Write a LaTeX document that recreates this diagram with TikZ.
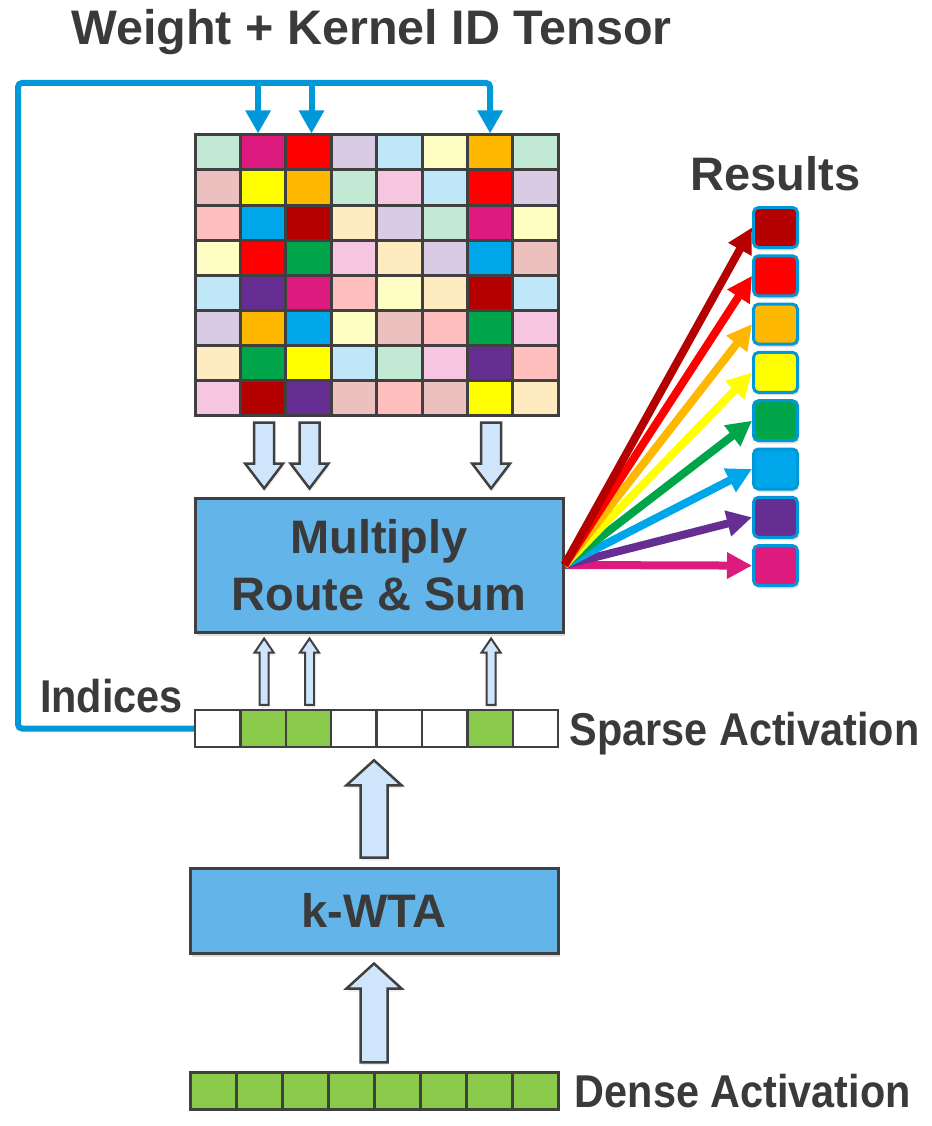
\documentclass[tikz,border=0pt]{standalone}
\usepackage{fontspec}
\setmainfont{Liberation Sans}
\usepackage{graphicx}
\usetikzlibrary{calc, positioning, shadows, arrows.meta}

\definecolor{txtgray}{HTML}{3A3A3A}
\definecolor{linegray}{HTML}{404040}
\definecolor{feedblue}{HTML}{0098D8}
\definecolor{boxblue}{HTML}{62B4E9}
\definecolor{arrowfill}{HTML}{CFE5FB}
\definecolor{actgreen}{HTML}{8BC94A}
% strong colours
\definecolor{cdred}{HTML}{B50000}
\definecolor{cred}{HTML}{FF0000}
\definecolor{corange}{HTML}{FFB800}
\definecolor{cyellow}{HTML}{FFFF00}
\definecolor{cgreen}{HTML}{00A54A}
\definecolor{cblue}{HTML}{00A6EA}
\definecolor{cpurple}{HTML}{662D92}
\definecolor{cmagenta}{HTML}{DD1A7E}
% pale colours
\definecolor{pgreen}{HTML}{C1E9D4}
\definecolor{plav}{HTML}{D9CBE4}
\definecolor{pblue}{HTML}{C0E7F8}
\definecolor{pyellow}{HTML}{FEFEC4}
\definecolor{prose}{HTML}{EBC0BF}
\definecolor{ppink}{HTML}{F6C5E0}
\definecolor{psalmon}{HTML}{FFBFBF}
\definecolor{ppeach}{HTML}{FEEBC0}

\newcommand{\narrowtxt}[1]{\scalebox{0.9}[1]{#1}}
% hollow block arrow: options, from, to, shaft half width, head half width, head length
\newcommand{\fatarrow}[6]{%
  \coordinate (fa-s) at (#2);
  \coordinate (fa-e) at (#3);
  \coordinate (fa-b) at ($(fa-e)!#6!(fa-s)$);
  \draw[hollow,#1] ($(fa-s)+(-#4,0)$) -- ($(fa-b)+(-#4,0)$) -- ($(fa-b)+(-#5,0)$) -- (fa-e)
    -- ($(fa-b)+(#5,0)$) -- ($(fa-b)+(#4,0)$) -- ($(fa-s)+(#4,0)$) -- cycle;}

\tikzset{
  lbl/.style={font=\fontsize{47}{57}\selectfont\bfseries, text=txtgray, inner sep=0pt},
  side/.style={lbl, font=\fontsize{46}{55}\selectfont\bfseries, text height=33pt, text depth=0pt},
  block/.style={rectangle, draw=linegray, line width=3pt, fill=boxblue, lbl, align=center,
    drop shadow={opacity=.25, shadow xshift=2pt, shadow yshift=-4pt}},
  cell/.style={rectangle, draw=linegray, line width=3pt, inner sep=0pt,
    minimum width=45.4pt, minimum height=35pt},
  act/.style={rectangle, draw=linegray, line width=2.5pt, inner sep=0pt,
    minimum width=45.4pt, minimum height=37pt},
  resbox/.style={rectangle, rounded corners=5pt, draw=feedblue, line width=3pt, inner sep=0pt,
    minimum width=44pt, minimum height=40pt,
    drop shadow={opacity=.25, shadow xshift=1.5pt, shadow yshift=-3pt}},
  hollow/.style={draw=linegray, line width=2.5pt, fill=arrowfill, line join=miter,
    drop shadow={opacity=.15, shadow xshift=1pt, shadow yshift=-3pt}},
  feed/.style={draw=feedblue, line width=6pt},
  fan/.style={line width=8pt, -{Triangle[length=25pt,width=25pt]}}
}

\begin{document}
\begin{tikzpicture}[x=1pt, y=-1pt]
\useasboundingbox (0,0) rectangle (931,1126);

% weight + kernel id tensor
\foreach \row [count=\r] in {
  {pgreen,cmagenta,cred,plav,pblue,pyellow,corange,pgreen},
  {prose,cyellow,corange,pgreen,ppink,pblue,cred,plav},
  {psalmon,cblue,cdred,ppeach,plav,pgreen,cmagenta,pyellow},
  {pyellow,cred,cgreen,ppink,ppeach,plav,cblue,prose},
  {pblue,cpurple,cmagenta,psalmon,pyellow,ppeach,cdred,pblue},
  {plav,corange,cblue,pyellow,prose,psalmon,cgreen,ppink},
  {ppeach,cgreen,cyellow,pblue,pgreen,ppink,cpurple,psalmon},
  {ppink,cdred,cpurple,prose,psalmon,prose,cyellow,ppeach}}
  \foreach \col [count=\c] in \row
    \node[cell, fill=\col] (g-\r-\c) at ({195+45.4*(\c-0.5)}, {135+35*(\r-0.5)}) {};

% activations
\foreach \f [count=\c] in {white,actgreen,actgreen,white,white,white,actgreen,white}
  \node[act, fill=\f] (s-\c) at ({195+45.4*(\c-0.5)}, 728.5) {};
\foreach \c in {1,...,8}
  \node[act, fill=actgreen, minimum width=46pt] (d-\c) at ({190.5+46*(\c-0.5)}, 1091) {};

\node[block, minimum width=368pt, minimum height=134pt] (mrs) at (379,565) {Multiply\\Route \& Sum};
\node[block, minimum width=368pt, minimum height=85pt] (kwta) at (374,910.5) {k-WTA};

% results
\foreach \col [count=\i] in {cdred,cred,corange,cyellow,cgreen,cblue,cpurple,cmagenta}
  \node[resbox, fill=\col] (r-\i) at (775.5, {227.5+48.3*(\i-1)}) {};

% labels
\node[lbl, font=\fontsize{48.5}{57}\selectfont\bfseries, anchor=base] (title) at (371.5,45) {Weight + Kernel ID Tensor};
\node[lbl, text depth=0pt, above=15.5pt of r-1] (reslbl) {Results};
\node[side, right=10pt of s-8] (sparselbl) {\narrowtxt{Sparse Activation}};
\node[side, right=15pt of d-8] (denselbl) {\narrowtxt{Dense Activation}};
\node[lbl, font=\fontsize{46}{55}\selectfont\bfseries, anchor=base east] (idx) at (183,712) {\narrowtxt{Indices}};

% index feedback
\coordinate (loop) at (18,83);
\draw[feed, rounded corners=4pt, -{Triangle[length=23pt,width=24pt]}] (s-1.west) -| (loop) -| (g-1-7.north);
\foreach \c/\dx in {2/-5,3/3}
  \draw[feed, -{Triangle[length=23pt,width=24pt]}] ($(g-1-\c.north |- loop)+(\dx,0)$) -- ($(g-1-\c.north)+(\dx,0)$);

% block arrows
\foreach \c in {2,3,7} {
  \fatarrow{}{$(g-8-\c.south)+(1,6)$}{$(g-8-\c.south |- mrs.north)+(1,-8)$}{10pt}{19pt}{25pt}
  \fatarrow{line width=2pt}{$(s-\c.north)+(1,-4)$}{$(s-\c.north |- mrs.south)+(1,5)$}{4.5pt}{9.5pt}{14pt}
}
\fatarrow{}{$(kwta.north)+(0,-9)$}{$(kwta.north |- s-1.south)+(0,12)$}{13.5pt}{27.5pt}{25pt}
\fatarrow{}{$(kwta.south |- d-1.north)+(0,-9)$}{$(kwta.south)+(0,9)$}{13.5pt}{27.5pt}{25pt}

% routing to results
\foreach \i/\col in {8/cmagenta,7/cpurple,6/cblue,5/cgreen,4/cyellow,3/corange,2/cred,1/cdred}
  \draw[fan, \col] (mrs.east) -- (r-\i.west);
\end{tikzpicture}
\end{document}
